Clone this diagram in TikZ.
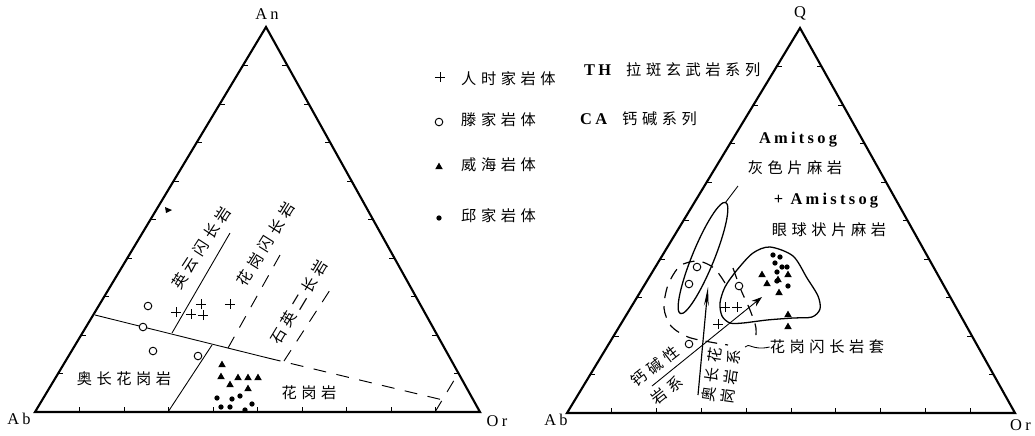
\documentclass[tikz,border=0pt]{standalone}
\usepackage{fontspec}
\setmainfont{Liberation Serif}
\newfontfamily\cjk[LetterSpace=30]{Noto Sans CJK SC}
\newfontfamily\latsp[LetterSpace=20]{Liberation Serif}
\usetikzlibrary{shapes.misc,shapes.geometric,arrows.meta,calc}
\begin{document}
\begin{tikzpicture}[x=0.03cm,y=-0.03cm,
  edge/.style={line width=1.8pt,line join=miter},
  fine/.style={line width=0.75pt},
  dline/.style={line width=0.8pt,dash pattern=on 11pt off 9pt},
  rdline/.style={line width=1pt,dash pattern=on 10pt off 7pt},
  loopl/.style={line width=1.1pt},
  cjklab/.style={font=\cjk\fontsize{13}{15}\selectfont,inner sep=0pt},
  latlab/.style={font=\latsp\bfseries\fontsize{14}{16}\selectfont,inner sep=0pt},
  vlab/.style={font=\latsp\fontsize{14}{16}\selectfont,inner sep=0pt},
  circm/.style={circle,draw,line width=0.8pt,minimum size=6.5pt,inner sep=0pt,fill=white},
  dotm/.style={circle,fill,minimum size=4.5pt,inner sep=0pt},
  trim/.style={regular polygon,regular polygon sides=3,fill,minimum size=7.5pt,inner sep=0pt},
  plusm/.style={cross out,draw,rotate=45,minimum size=5.5pt,inner sep=0pt,line width=0.7pt}]
\useasboundingbox (0,0) rectangle (1035,435);

% ---------------- left triangle ----------------
\coordinate (lAn) at (266,27);
\coordinate (lAb) at (35,412);
\coordinate (lOr) at (480,412);
\draw[edge] (lAb) -- (lAn) -- (lOr) -- cycle;
\foreach \k in {1,...,9}{
  \draw[fine] ($(lAb)!\k/10!(lAn)$) -- ++(5,0);
  \draw[fine] ($(lOr)!\k/10!(lAn)$) -- ++(-5,0);
  \draw[fine] ($(lAb)!\k/10!(lOr)$) -- ++(0,-5);
}
\fill (165,207) -- (172,210) -- (166,213) -- cycle;
\node[vlab] (lAnL) at (267,14) {An};
\node[vlab] (lAbL) at (19,419) {Ab};
\node[vlab] (lOrL) at (497,421) {Or};

\coordinate (h1) at (95,315);
\coordinate (h2) at (268,358);
\coordinate (h3) at (443,400);
\draw[fine] (h1) -- (h2);
\draw[dline] (h2) -- (h3);
\coordinate (s1a) at (168,412);
\coordinate (s1b) at (212,345);
\draw[fine] (s1a) -- (s1b);
\coordinate (s2a) at (172,333);
\coordinate (s2b) at (230,233);
\draw[fine] (s2a) -- (s2b);
\coordinate (d1a) at (228,348);
\coordinate (d1b) at (280,255);
\draw[dline] (d1a) -- (d1b);
\coordinate (d2a) at (284,361);
\coordinate (d2b) at (330,290);
\draw[dline] (d2a) -- (d2b);
\coordinate (d3a) at (435,412);
\coordinate (d3b) at (459,372);
\draw[dline] (d3a) -- (d3b);

\node[cjklab,rotate=57] (yl) at (201,248) {英云闪长岩};
\node[cjklab,rotate=58] (hg) at (266,244) {花岗闪长岩};
\node[cjklab,rotate=59] (sy) at (299,302) {石英二长岩};
\node[cjklab] (ac) at (124,379) {奥长花岗岩};
\node[cjklab] (hgy) at (309,393) {花岗岩};

\foreach \p [count=\i] in {(148,306),(143,327),(153,351),(198,356)}
  \node[circm] (lc\i) at \p {};
\foreach \p [count=\i] in {(176,312),(201,304),(191,314),(203,315),(230,304)}
  \node[plusm] (lp\i) at \p {};
\foreach \p [count=\i] in {(222,365),(221,377),(230,385),(238,378),(248,378),(258,378),(248,389)}
  \node[trim] (lt\i) at \p {};
\foreach \p [count=\i] in {(217,398),(232,399),(240,396),(252,404),(221,407),(230,407),(245,410)}
  \node[dotm] (ld\i) at \p {};

% ---------------- legend ----------------
\node[plusm] (g1) at (440,77) {};
\node[cjklab,anchor=west] (g1t) at (461,79) {人时家岩体};
\node[circm] (g2) at (439,122) {};
\node[cjklab,anchor=west] (g2t) at (461,120) {滕家岩体};
\node[trim] (g3) at (439,167) {};
\node[cjklab,anchor=west] (g3t) at (461,165) {威海岩体};
\node[dotm] (g4) at (439,218) {};
\node[cjklab,anchor=west] (g4t) at (461,216) {邱家岩体};
\node[latlab,anchor=west] (th) at (584,70) {TH};
\node[cjklab,anchor=west] (tht) at (626,70) {拉斑玄武岩系列};
\node[latlab,anchor=west] (ca) at (580,119) {CA};
\node[cjklab,anchor=west] (cat) at (622,119) {钙碱系列};

% ---------------- right triangle ----------------
\coordinate (rQ) at (800,28);
\coordinate (rAb) at (567,413);
\coordinate (rOr) at (1015,413);
\draw[edge] (rAb) -- (rQ) -- (rOr) -- cycle;
\foreach \k in {1,...,9}{
  \draw[fine] ($(rAb)!\k/10!(rQ)$) -- ++(5,0);
  \draw[fine] ($(rOr)!\k/10!(rQ)$) -- ++(-5,0);
  \draw[fine] ($(rAb)!\k/10!(rOr)$) -- ++(0,-5);
}
\node[vlab] (rQL) at (800,13) {Q};
\node[vlab] (rAbL) at (556,420) {Ab};
\node[vlab,anchor=west] (rOrL) at (1010,425) {Or};

\node[latlab] (am1) at (798,140) {Amitsog};
\node[cjklab] (am1t) at (795,168) {灰色片麻岩};
\node[latlab] (am2) at (826,201) {+ Amistsog};
\node[cjklab] (am2t) at (829,230) {眼球状片麻岩};
\node[cjklab] (gd) at (827,347) {花岗闪长岩套};

% elongated loop
\draw[loopl,rotate around={67.8:(703,258)}] (703,258) ellipse [x radius=60,y radius=11];
\coordinate (elt) at (725.5,202.5);
\coordinate (elu) at (738,186);
\draw[fine] (elt) -- (elu);
% granodiorite loop
\draw[loopl] plot[smooth cycle] coordinates {(770,247) (793,256) (807,278) (818,296) (820,309) (812,317) (793,318) (767,320) (743,323) (730,323) (722,316) (720,303) (725,287) (737,270) (753,253)};
% dashed fields
\draw[rdline] plot[smooth] coordinates {(725,283) (714,268) (698,261) (680,266) (668,285) (664,308) (671,326) (688,337) (710,342) (728,345)};
\draw[rdline] plot[smooth] coordinates {(733,268) (741,290) (750,310) (756,328) (755,342)};
\coordinate (tl) at (745,347);
\draw[fine] (tl) .. controls (749,342) and (752,351) .. (gd.west);

% trend arrows
\coordinate (caS) at (652,386);
\coordinate (caE) at (762,297);
\draw[fine,-{Stealth[length=9pt,width=6pt]}] (caS) -- (caE);
\coordinate (thS) at (698,395);
\coordinate (thE) at (708,287);
\draw[line width=1pt,-{Stealth[length=16pt,width=4pt]}] (thS) -- (thE);
\node[cjklab,rotate=38] (calab1) at (655,366) {钙碱性};
\node[cjklab,rotate=38] (calab2) at (667,390) {岩系};
\node[cjklab,rotate=82] (thlab1) at (712,375) {奥长花};
\node[cjklab,rotate=82] (thlab2) at (731,377) {岗岩系};

\foreach \p [count=\i] in {(697,267),(689,284),(739,286),(689,344)}
  \node[circm] (rc\i) at \p {};
\foreach \p [count=\i] in {(725,307),(737,307),(718,324)}
  \node[plusm] (rp\i) at \p {};
\foreach \p [count=\i] in {(762,275),(767,284),(778,280),(779,293),(788,275),(788,315),(788,327)}
  \node[trim] (rt\i) at \p {};
\foreach \p [count=\i] in {(773,255),(780,257),(775,263),(782,267),(787,267),(777,272),(777,281),(788,286)}
  \node[dotm] (rd\i) at \p {};
\end{tikzpicture}
\end{document}
